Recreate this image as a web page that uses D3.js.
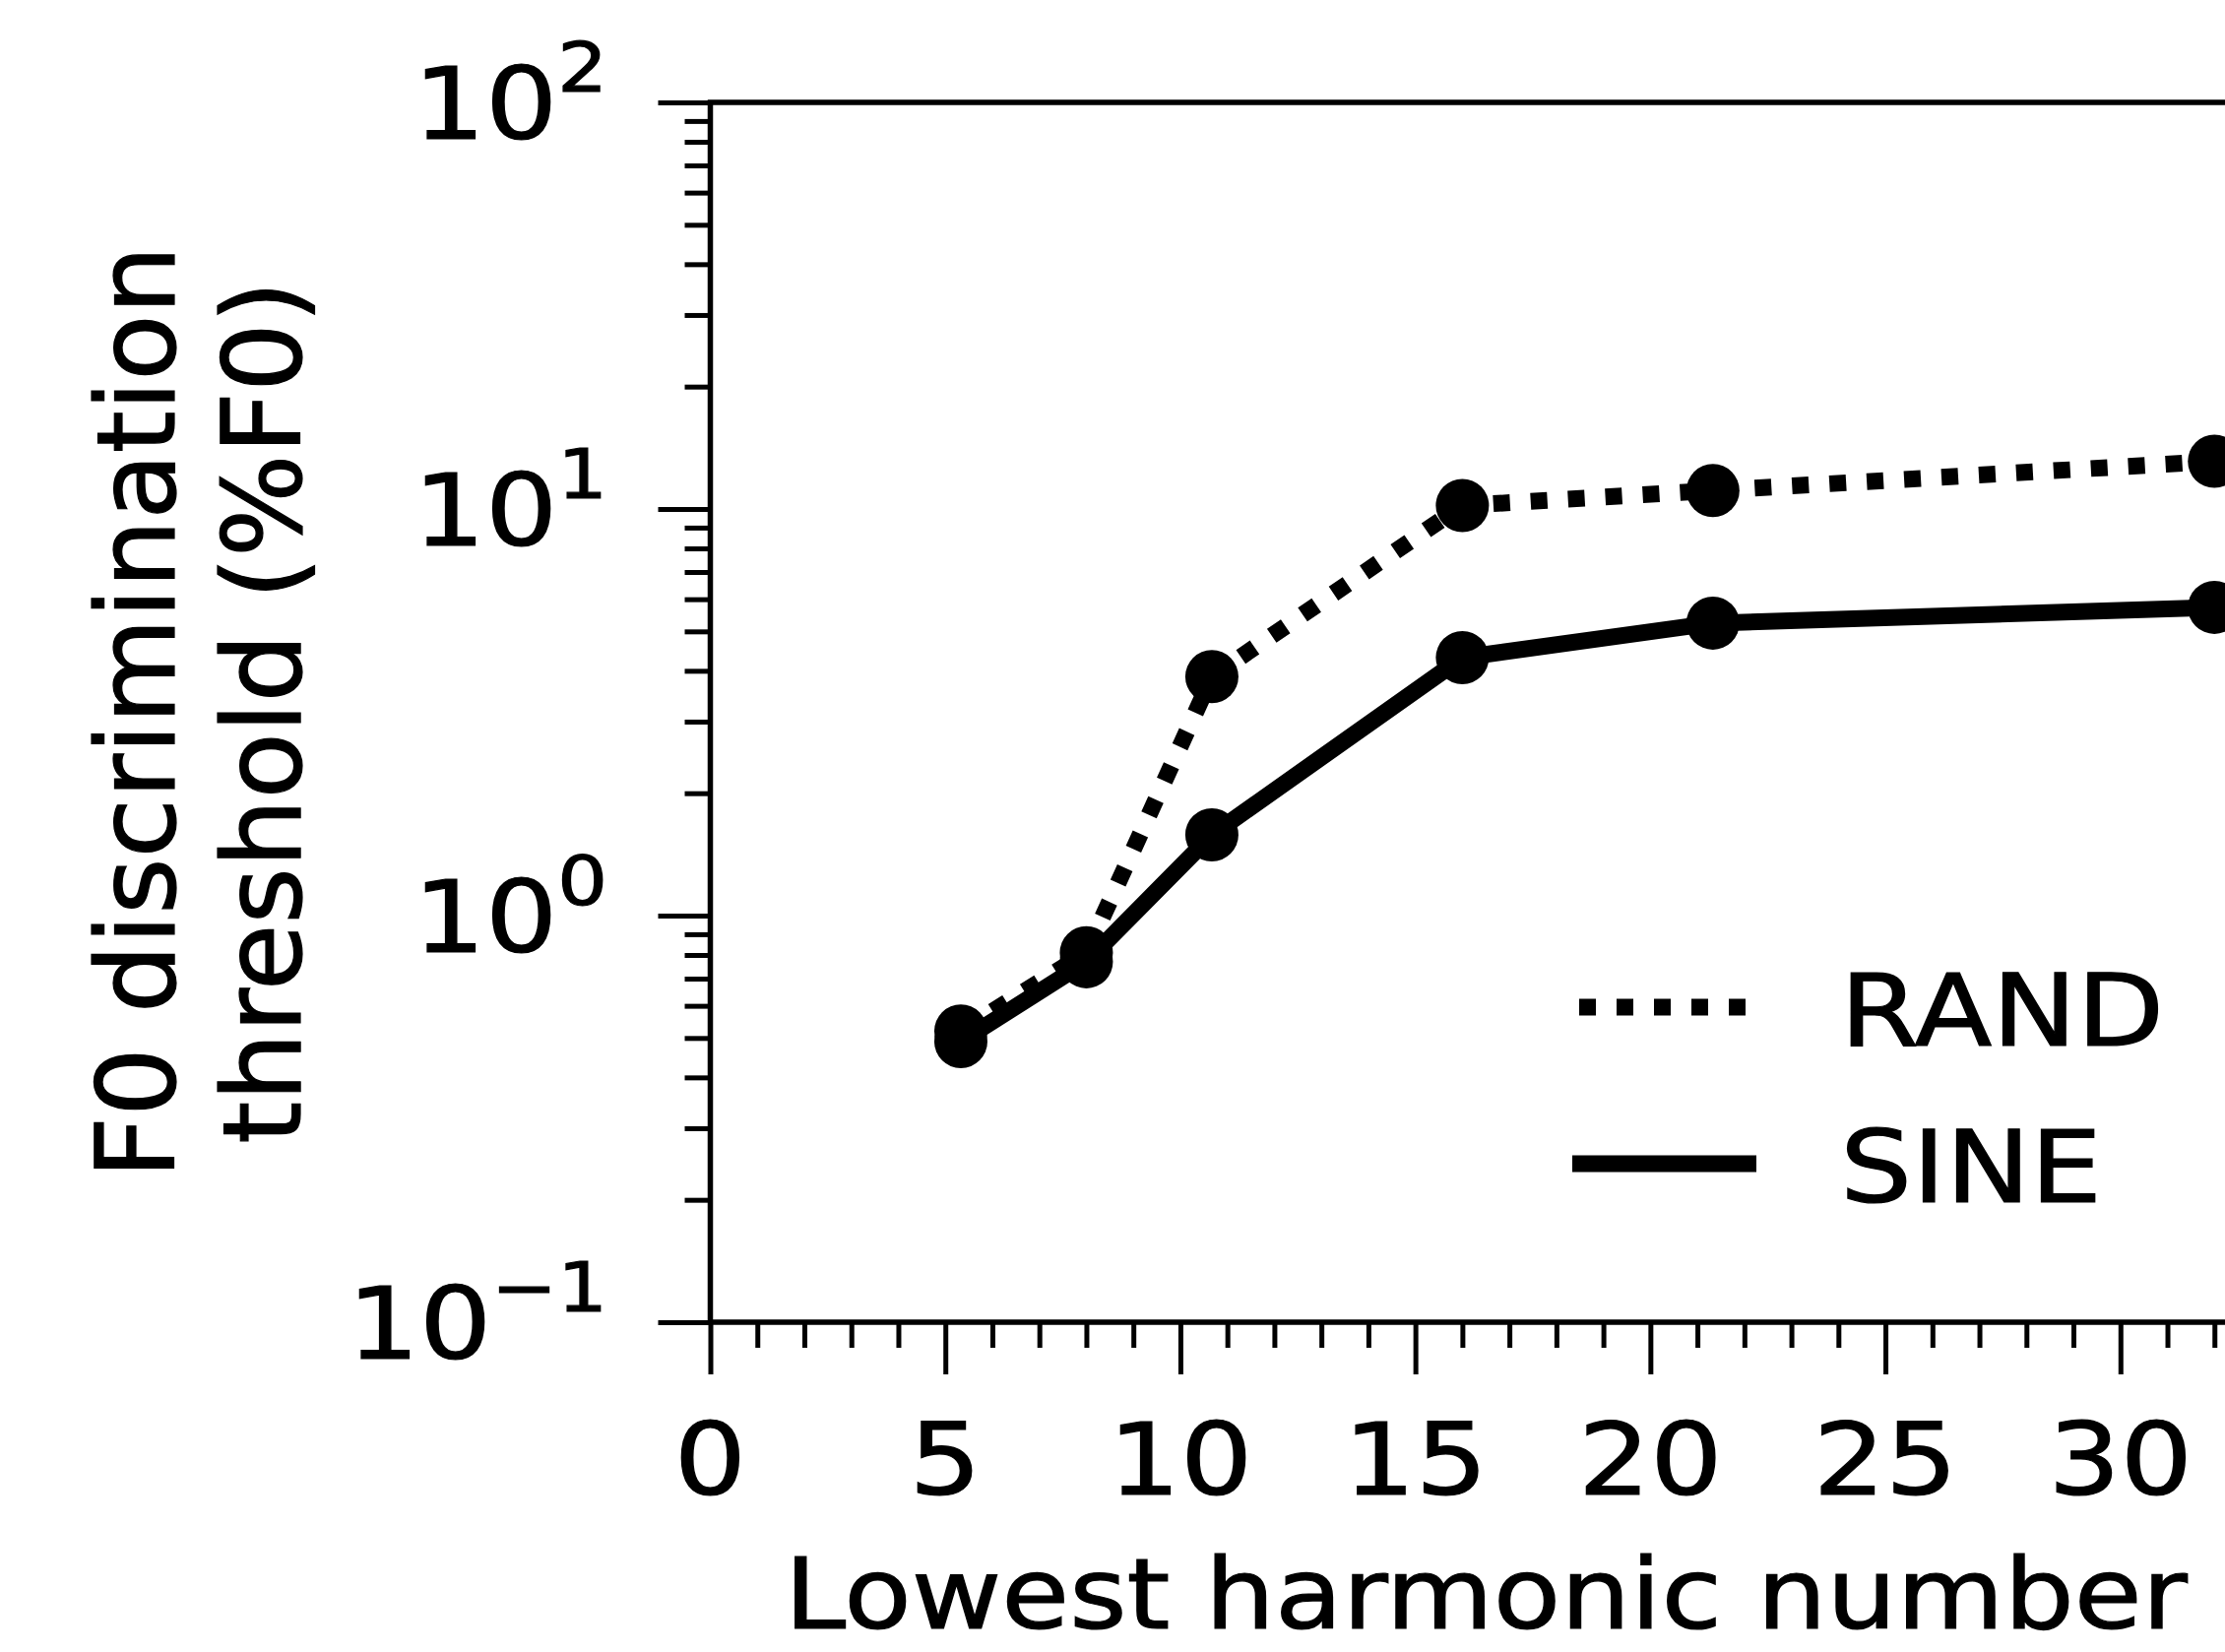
<!DOCTYPE html>
<html>
<head>
<meta charset="utf-8">
<script src="https://cdn.jsdelivr.net/npm/d3@7"></script>
<style>
  body { margin: 0; background: #fff; }
  svg { display: block; }
  text { font-family: "DejaVu Sans", sans-serif; fill: #000; stroke: #000; stroke-width: 1.2px; }
</style>
</head>
<body>
<div id="chart"></div>
<script>
// lowest harmonic number of each condition
const harmonics = [5.33, 8, 10.67, 16, 21.33, 32];
// F0 discrimination thresholds (%F0)
const randThresh = [0.52, 0.81, 3.87, 10.2, 11.1, 13.1];
const sineThresh = [0.49, 0.77, 1.58, 4.31, 5.24, 5.73];
const seriesNames = ["RAND", "SINE"];

const xMajorTicks = [0, 5, 10, 15, 20, 25, 30];
const yMajorTicks = [0.1, 1, 10, 100];
const yExponents = ["\u22121", "0", "1", "2"];

function drawChart() {
    const width = 2260, height = 1678;
    const left = 721.5, top = 104, bottom = 1343, right = 2297;
    const stretch = 1.14; // tick/legend text is a bit wider than tall in the original

    const svg = d3.select("#chart")
        .append("svg")
        .attr("width", width)
        .attr("height", height);

    const x = d3.scaleLinear().domain([0, 33]).range([left, right]);
    const y = d3.scaleLog().domain([0.1, 100]).range([bottom, top]);

    // ticks
    const xMinor = d3.range(0, 34).filter(v => !xMajorTicks.includes(v));
    const yMinor = y.ticks().filter(v => !yMajorTicks.some(m => Math.abs(m - v) < 1e-9));

    const tickStyle = g => {
        g.select(".domain").remove();
        g.selectAll("line").attr("stroke", "#000").attr("stroke-width", 5);
    };

    svg.append("g").attr("transform", `translate(0,${bottom})`)
        .call(d3.axisBottom(x).tickValues(xMajorTicks).tickSize(53).tickFormat(""))
        .call(tickStyle);
    svg.append("g").attr("transform", `translate(0,${bottom})`)
        .call(d3.axisBottom(x).tickValues(xMinor).tickSize(26).tickFormat(""))
        .call(tickStyle);
    svg.append("g").attr("transform", `translate(${left},0)`)
        .call(d3.axisLeft(y).tickValues(yMajorTicks).tickSize(53).tickFormat(""))
        .call(tickStyle);
    svg.append("g").attr("transform", `translate(${left},0)`)
        .call(d3.axisLeft(y).tickValues(yMinor).tickSize(26).tickFormat(""))
        .call(tickStyle);

    // spines
    svg.append("rect")
        .attr("x", left).attr("y", top)
        .attr("width", right - left).attr("height", bottom - top)
        .attr("fill", "none").attr("stroke", "#000").attr("stroke-width", 5.5);

    // x tick labels
    svg.append("g").selectAll("text")
        .data(xMajorTicks)
        .enter().append("text")
        .attr("transform", d => `translate(${x(d)},1518) scale(${stretch},1)`)
        .attr("text-anchor", "middle")
        .style("font-size", "101px")
        .text(d => d);

    // y tick labels 10^n
    const yl = svg.append("g").selectAll("text")
        .data(yMajorTicks)
        .enter().append("text")
        .attr("transform", d => `translate(617,${y(d) + 37}) scale(${stretch},1)`)
        .attr("text-anchor", "end")
        .style("font-size", "101px");
    yl.append("tspan").text("10");
    yl.append("tspan")
        .attr("dy", -48)
        .style("font-size", "70px")
        .text((d, i) => yExponents[i]);

    // axis titles
    svg.append("text")
        .attr("transform", `translate(${(left + right) / 2},1654) scale(1.12,1)`)
        .attr("text-anchor", "middle")
        .style("font-size", "100px")
        .text("Lowest harmonic number");

    const midY = (top + bottom) / 2;
    svg.append("text")
        .attr("transform", `translate(177,${midY}) rotate(-90)`)
        .attr("text-anchor", "middle")
        .style("font-size", "110px")
        .text("F0 discrimination");
    svg.append("text")
        .attr("transform", `translate(305,${midY}) rotate(-90)`)
        .attr("text-anchor", "middle")
        .style("font-size", "110px")
        .text("threshold (%F0)");

    // series
    const line = d3.line()
        .x(d => x(d[0]))
        .y(d => y(d[1]));

    const series = [
        { name: seriesNames[0], values: randThresh, dash: "17,21" },
        { name: seriesNames[1], values: sineThresh, dash: null }
    ];

    const plot = svg.append("g");
    series.forEach(s => {
        const pts = harmonics.map((h, i) => [h, s.values[i]]);
        plot.append("path")
            .attr("d", line(pts))
            .attr("fill", "none")
            .attr("stroke", "#000")
            .attr("stroke-width", 17)
            .attr("stroke-dasharray", s.dash);
        plot.selectAll(null)
            .data(pts)
            .enter().append("circle")
            .attr("cx", d => x(d[0]))
            .attr("cy", d => y(d[1]))
            .attr("r", 27)
            .attr("fill", "#000");
    });

    // legend
    const legendY = [1023, 1182];
    const leg = svg.append("g").selectAll("g")
        .data(series)
        .enter().append("g");
    leg.append("line")
        .attr("x1", (d, i) => i === 0 ? 1604 : 1597)
        .attr("x2", 1784)
        .attr("y1", (d, i) => legendY[i]).attr("y2", (d, i) => legendY[i])
        .attr("stroke", "#000")
        .attr("stroke-width", 17)
        .attr("stroke-dasharray", d => d.dash);
    leg.append("text")
        .attr("transform", (d, i) => `translate(1869,${legendY[i] + 39}) scale(1.13,1)`)
        .style("font-size", "102px")
        .text(d => d.name);
}

drawChart();
</script>
</body>
</html>
